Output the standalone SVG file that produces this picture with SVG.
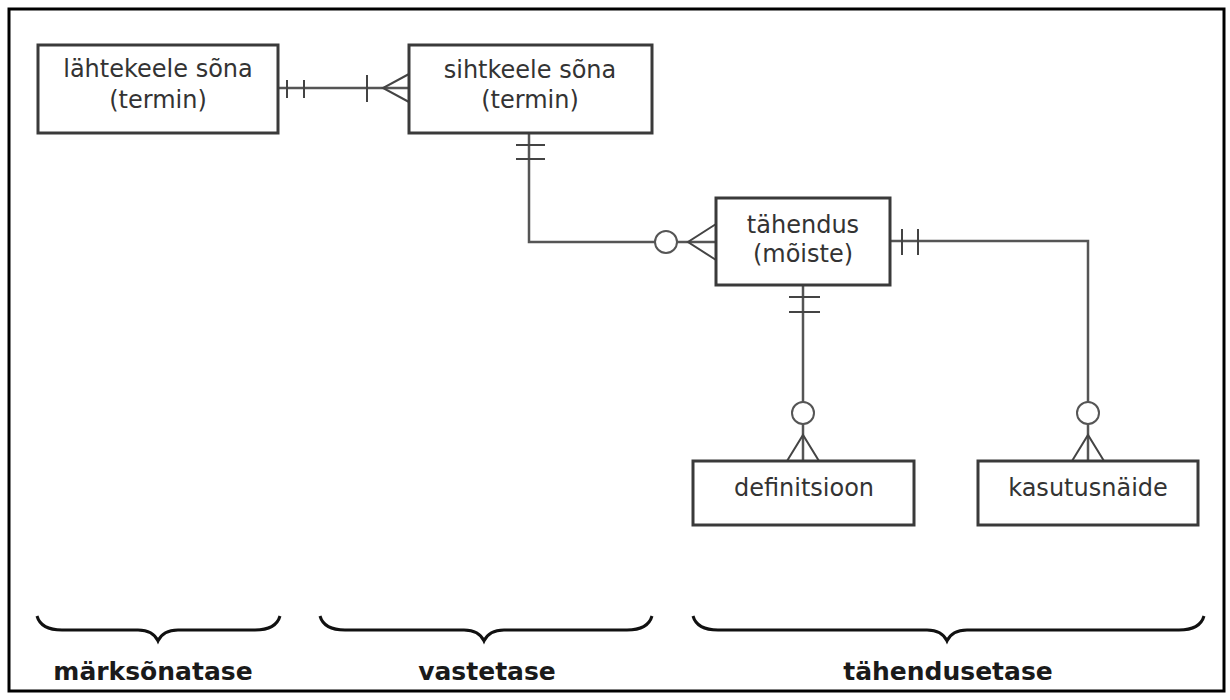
<svg xmlns="http://www.w3.org/2000/svg" width="1230" height="700" viewBox="0 0 1230 700">
  <style>
    .frame { fill: #ffffff; stroke: #000000; stroke-width: 3; }
    .box { fill: #ffffff; stroke: #3a3a3a; stroke-width: 3; }
    .lbl { font-family: "DejaVu Sans", Verdana, sans-serif; font-size: 24px; fill: #333333; text-anchor: middle; }
    .lvl { font-family: "DejaVu Sans", Verdana, sans-serif; font-size: 25px; font-weight: bold; fill: #1a1a1a; text-anchor: middle; }
    .con { fill: none; stroke: #555555; stroke-width: 2.5; }
    .mark { fill: none; stroke: #444444; stroke-width: 2; }
    .circ { fill: #ffffff; stroke: #555555; stroke-width: 2; }
    .brace { fill: none; stroke: #111111; stroke-width: 3; }
  </style>
  <rect x="0" y="0" width="1230" height="700" fill="#ffffff"/>
  <rect class="frame" x="9" y="9" width="1215" height="682"/>

  <g id="connectors">
    <!-- lähtekeele sõna — sihtkeele sõna -->
    <g id="c1">
      <line class="con" x1="278" y1="88" x2="409" y2="88"/>
      <line class="mark" x1="287" y1="80" x2="287" y2="98" stroke-width="3"/>
      <line class="mark" x1="304" y1="80" x2="304" y2="98" stroke-width="3"/>
      <line class="mark" x1="367" y1="75" x2="367" y2="102"/>
      <polyline class="mark" points="409,74 383,88 409,102"/>
    </g>
    <!-- sihtkeele sõna — tähendus -->
    <g id="c2">
      <polyline class="con" points="529,133 529,242 655,242"/>
      <line class="mark" x1="516" y1="145" x2="545" y2="145"/>
      <line class="mark" x1="516" y1="159" x2="545" y2="159"/>
      <circle class="circ" cx="666" cy="242" r="11"/>
      <line class="con" x1="677" y1="242" x2="716" y2="242"/>
      <polyline class="mark" points="716,224 688,242 716,260"/>
    </g>
    <!-- tähendus — kasutusnäide -->
    <g id="c3">
      <polyline class="con" points="890,241 1088,241 1088,402"/>
      <line class="mark" x1="902" y1="229" x2="902" y2="255"/>
      <line class="mark" x1="918" y1="229" x2="918" y2="255"/>
      <circle class="circ" cx="1088" cy="413" r="11"/>
      <line class="con" x1="1088" y1="424" x2="1088" y2="461"/>
      <polyline class="mark" points="1072,461 1088,435 1104,461"/>
    </g>
    <!-- tähendus — definitsioon -->
    <g id="c4">
      <line class="con" x1="803" y1="285" x2="803" y2="402"/>
      <line class="mark" x1="789" y1="297" x2="820" y2="297"/>
      <line class="mark" x1="789" y1="312" x2="820" y2="312"/>
      <circle class="circ" cx="803" cy="413" r="11"/>
      <line class="con" x1="803" y1="424" x2="803" y2="461"/>
      <polyline class="mark" points="787,461 803,435 819,461"/>
    </g>
  </g>

  <g id="n-lahtekeele">
    <rect class="box" x="38" y="45" width="240" height="88"/>
    <text class="lbl" x="158" y="77">lähtekeele sõna</text>
    <text class="lbl" x="158" y="108">(termin)</text>
  </g>
  <g id="n-sihtkeele">
    <rect class="box" x="409" y="45" width="243" height="88"/>
    <text class="lbl" x="530" y="78">sihtkeele sõna</text>
    <text class="lbl" x="530" y="108">(termin)</text>
  </g>
  <g id="n-tahendus">
    <rect class="box" x="716" y="198" width="174" height="87"/>
    <text class="lbl" x="803" y="233">tähendus</text>
    <text class="lbl" x="803" y="262">(mõiste)</text>
  </g>
  <g id="n-definitsioon">
    <rect class="box" x="693" y="461" width="221" height="64"/>
    <text class="lbl" x="804" y="496">definitsioon</text>
  </g>
  <g id="n-kasutusnaide">
    <rect class="box" x="978" y="461" width="220" height="64"/>
    <text class="lbl" x="1088" y="496">kasutusnäide</text>
  </g>

  <g id="levels">
    <path class="brace" d="M37,616 Q41,630 62,630 L138,630 Q153,630 158,641 Q163,630 178,630 L255,630 Q276,630 280,616"/>
    <path class="brace" d="M320,616 Q324,630 345,630 L464,630 Q479,630 484,641 Q489,630 504,630 L627,630 Q648,630 652,616"/>
    <path class="brace" d="M693,616 Q697,630 718,630 L927,630 Q942,630 947,641 Q952,630 967,630 L1179,630 Q1200,630 1204,616"/>
    <text class="lvl" x="153" y="680">märksõnatase</text>
    <text class="lvl" x="487" y="680">vastetase</text>
    <text class="lvl" x="948" y="680">tähendusetase</text>
  </g>
</svg>
